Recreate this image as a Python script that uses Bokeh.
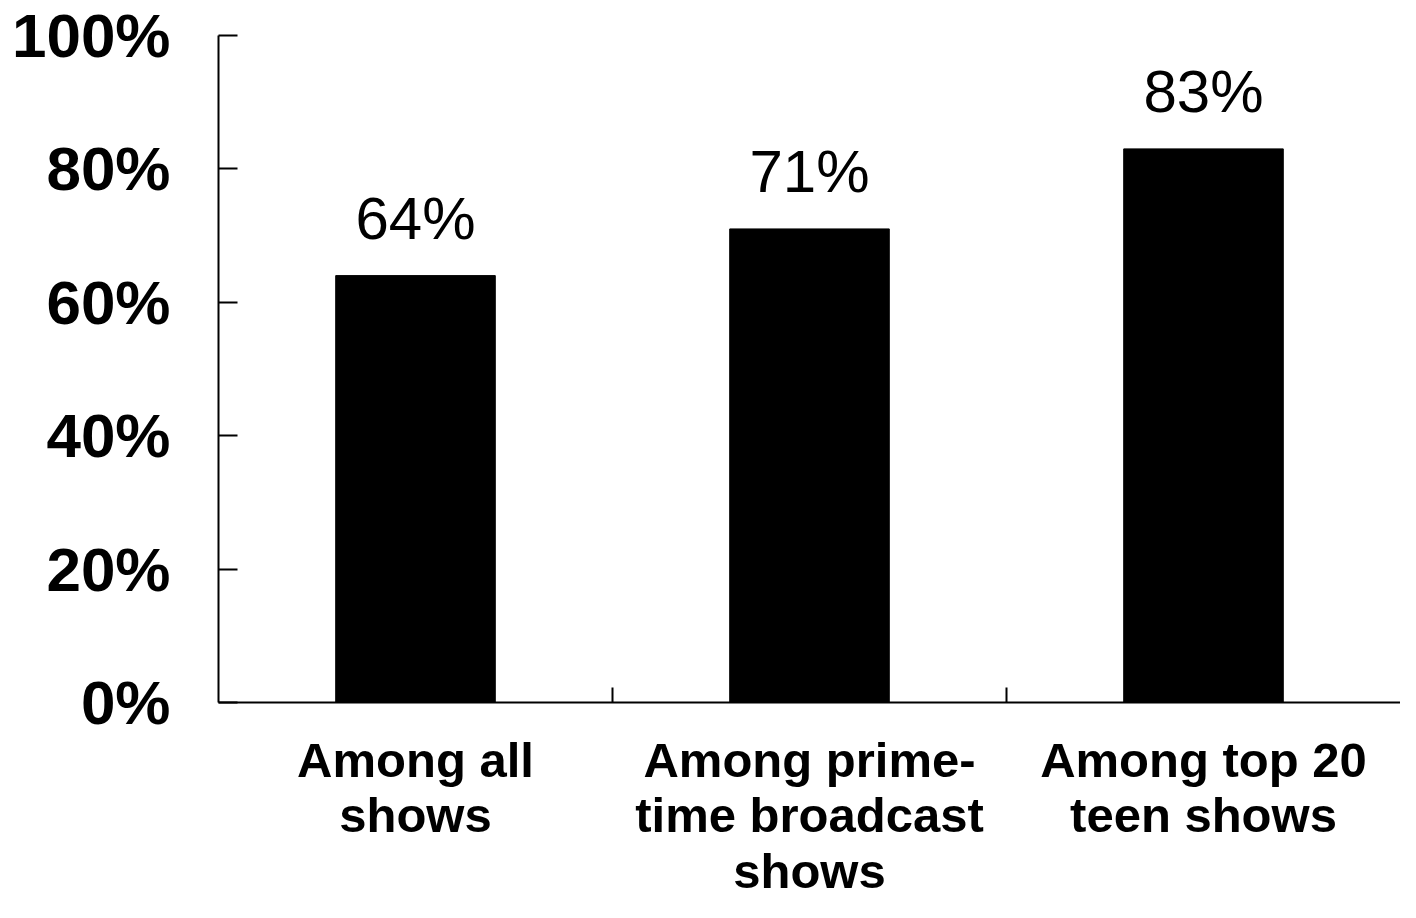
from bokeh.plotting import figure
from bokeh.models import Range1d, FixedTicker, PrintfTickFormatter, ColumnDataSource
from bokeh.core.properties import value
from bokeh.embed import file_html
from bokeh.resources import INLINE

categories = ["Among all\nshows", "Among prime-\ntime broadcast\nshows", "Among top 20\nteen shows"]
values = [64, 71, 83]
value_labels = ["64%", "71%", "83%"]
y_ticks = [0, 20, 40, 60, 80, 100]

positions = [i + 0.5 for i in range(len(categories))]
boundaries = list(range(1, len(categories)))

source = ColumnDataSource(dict(x=positions, top=values, label=value_labels))

FONT = "Liberation Sans"

p = figure(width=1400, height=902,
           x_range=Range1d(0, len(categories)), y_range=Range1d(0, 100),
           output_backend="svg", toolbar_location=None,
           min_border_left=218, min_border_right=0,
           min_border_top=35, min_border_bottom=200)
p.outline_line_color = None
p.grid.visible = False
p.background_fill_color = "white"
p.border_fill_color = "white"

p.vbar(x="x", top="top", bottom=0, width=0.405, source=source,
       fill_color="black", line_color="black")
p.text(x="x", y="top", text="label", source=source,
       text_align="center", text_baseline="alphabetic", y_offset=-57,
       text_font=value(FONT), text_font_size="60px", text_color="black")

# y axis
ya = p.yaxis[0]
ya.ticker = FixedTicker(ticks=y_ticks)
ya.formatter = PrintfTickFormatter(format="%d%%")
ya.axis_line_width = 2
ya.axis_line_color = "black"
ya.major_tick_line_width = 2
ya.major_tick_line_color = "black"
ya.major_tick_in = 19
ya.major_tick_out = 0
ya.minor_tick_line_color = None
ya.major_label_text_font = FONT
ya.major_label_text_font_style = "bold"
ya.major_label_text_font_size = "62px"
ya.major_label_text_color = "black"
ya.major_label_standoff = 48

# x axis
xa = p.xaxis[0]
xa.ticker = FixedTicker(ticks=positions, minor_ticks=boundaries)
xa.major_label_overrides = {pos: cat for pos, cat in zip(positions, categories)}
xa.axis_line_width = 2
xa.axis_line_color = "black"
xa.major_tick_line_color = None
xa.major_tick_in = 0
xa.major_tick_out = 0
xa.minor_tick_line_color = "black"
xa.minor_tick_line_width = 2
xa.minor_tick_in = 15
xa.minor_tick_out = 0
xa.major_label_text_font = FONT
xa.major_label_text_font_style = "bold"
xa.major_label_text_font_size = "49px"
xa.major_label_text_line_height = 1.03
xa.major_label_text_color = "black"
xa.major_label_text_align = "center"
xa.major_label_standoff = 30

open("out.html", "w").write(file_html(p, INLINE))
